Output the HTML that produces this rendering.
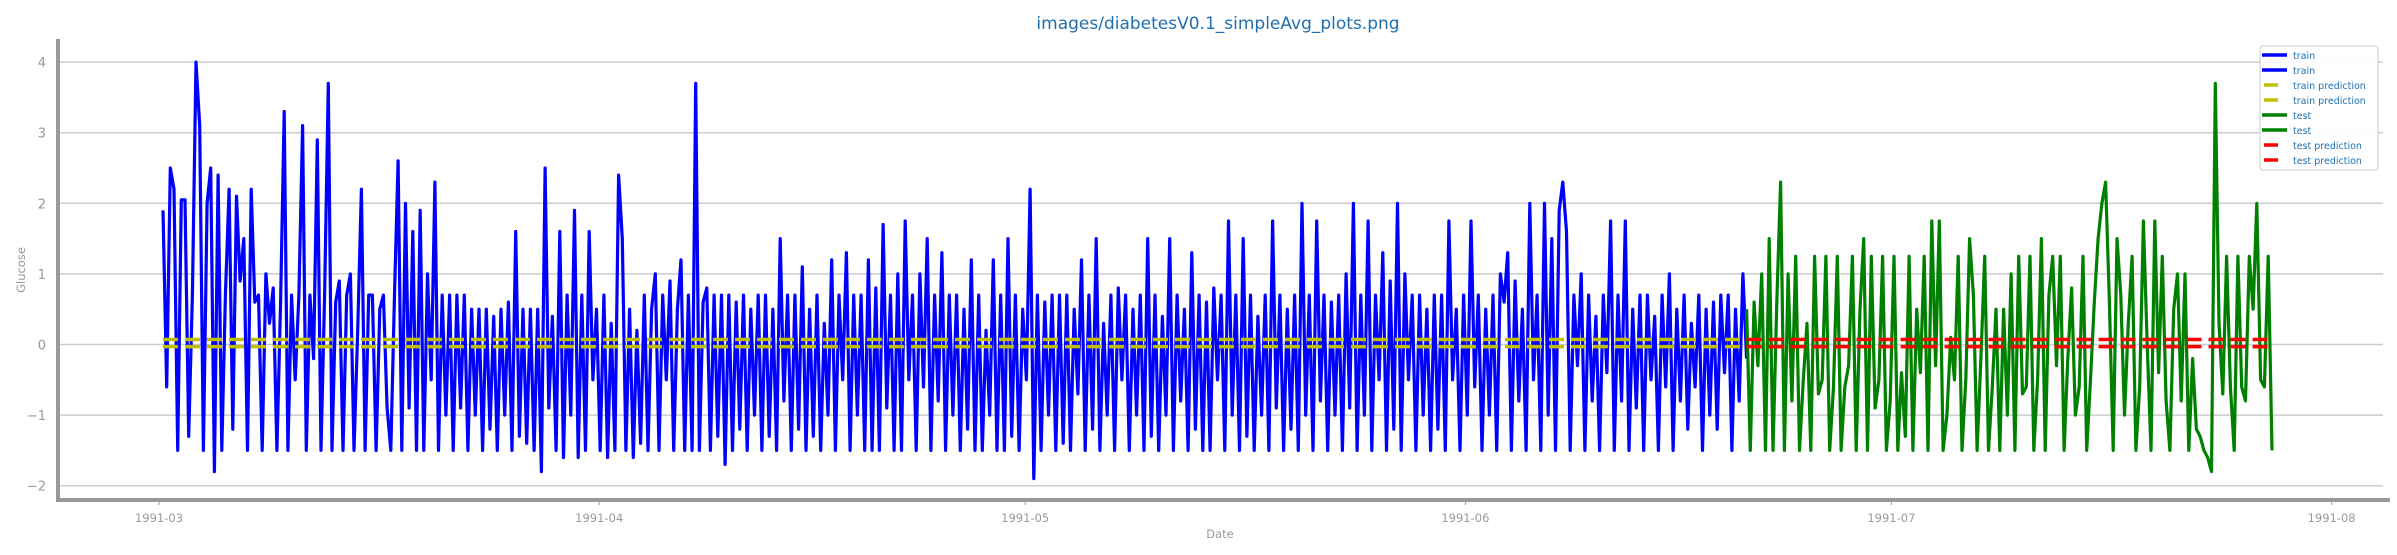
<!DOCTYPE html>
<html><head><meta charset="utf-8">
<style>
html,body{margin:0;padding:0;background:#fff;}
svg{display:block;font-family:"DejaVu Sans","Liberation Sans",sans-serif;}
</style></head>
<body>
<svg id="chart" width="2397" height="555" viewBox="0 0 2397 555" xmlns="http://www.w3.org/2000/svg">
<text x="1218" y="29" text-anchor="middle" font-size="17" fill="#1f6fb0">images/diabetesV0.1_simpleAvg_plots.png</text>
<g id="grid"></g>
<g id="series"></g>
<g id="axes"></g>
<g id="legend"></g>
</svg>
<script>
const yTicks = [-2, -1, 0, 1, 2, 3, 4];
const xTickLabels = ["1991-03", "1991-04", "1991-05", "1991-06", "1991-07", "1991-08"];
const xTickDays = [0, 31, 61, 92, 122, 153];
const trainStartDay = 0.28;
const trainEndDay = 111.8;
const testEndDay = 148.8;
const trainValues = [
1.9,-0.6,2.5,2.2,-1.5,2.05,2.05,-1.3,0.7,4.0,3.1,-1.5,2.0,2.5,-1.8,2.4,-1.5,0.7,2.2,-1.2,2.1,0.9,1.5,-1.5,2.2,0.6,0.7,-1.5,1.0,0.3,0.8,-1.5,0.6,3.3,-1.5,0.7,-0.5,0.7,3.1,-1.5,
0.7,-0.2,2.9,-1.5,0.7,3.7,-1.5,0.6,0.9,-1.5,0.7,1.0,-1.5,0.2,2.2,-1.5,0.7,0.7,-1.5,0.5,0.7,-0.9,-1.5,0.7,2.6,-1.5,2.0,-0.9,1.6,-1.5,1.9,-1.5,1.0,-0.5,2.3,-1.5,0.7,-1.0,0.7,-1.5,
0.7,-0.9,0.7,-1.5,0.5,-1.0,0.5,-1.5,0.5,-1.2,0.4,-1.5,0.5,-1.0,0.6,-1.5,1.6,-1.3,0.5,-1.4,0.5,-1.5,0.5,-1.8,2.5,-0.9,0.4,-1.5,1.6,-1.6,0.7,-1.0,1.9,-1.6,0.7,-1.5,1.6,-0.5,0.5,-1.5,0.7,-1.6,0.3,-1.5,
2.4,1.5,-1.5,0.5,-1.6,0.2,-1.4,0.7,-1.5,0.5,1.0,-1.5,0.7,-0.5,0.9,-1.5,0.5,1.2,-1.5,0.7,-1.5,3.7,-1.5,0.6,0.8,-1.5,0.7,-1.3,0.7,-1.7,0.7,-1.5,0.6,-1.2,0.7,-1.5,0.5,-1.0,0.7,-1.5,
0.7,-1.3,0.5,-1.5,1.5,-0.8,0.7,-1.5,0.7,-1.2,1.1,-1.5,0.5,-1.3,0.7,-1.5,0.3,-1.0,1.2,-1.5,0.7,-0.5,1.3,-1.5,0.7,-1.0,0.7,-1.5,1.2,-1.5,0.8,-1.5,1.7,-0.9,0.7,-1.5,1.0,-1.5,1.75,-0.5,
0.7,-1.5,1.0,-0.6,1.5,-1.5,0.7,-0.8,1.3,-1.5,0.7,-1.0,0.7,-1.5,0.5,-1.2,1.2,-1.5,0.7,-1.5,0.2,-1.0,1.2,-1.5,0.7,-1.5,1.5,-1.3,0.7,-1.5,0.5,-0.5,2.2,-1.9,0.7,-1.5,0.6,-1.0,0.7,-1.5,
0.7,-1.4,0.7,-1.5,0.5,-0.7,1.2,-1.5,0.7,-1.2,1.5,-1.5,0.3,-1.0,0.7,-1.5,0.8,-0.5,0.7,-1.5,0.5,-1.0,0.7,-1.5,1.5,-1.3,0.7,-1.5,0.4,-1.0,1.5,-1.5,0.7,-0.8,0.5,-1.5,1.3,-1.2,0.7,-1.5,
0.6,-1.5,0.8,-0.5,0.7,-1.5,1.75,-1.0,0.7,-1.5,1.5,-1.3,0.7,-1.5,0.4,-1.0,0.7,-1.5,1.75,-0.9,0.7,-1.5,0.5,-1.2,0.7,-1.5,2.0,-1.0,0.7,-1.5,1.75,-0.8,0.7,-1.5,0.6,-1.0,0.7,-1.5,1.0,-0.9,
2.0,-1.5,0.7,-1.0,1.75,-1.5,0.7,-0.5,1.3,-1.5,0.9,-1.2,2.0,-1.5,1.0,-0.5,0.7,-1.5,0.7,-1.0,0.5,-1.5,0.7,-1.2,0.7,-1.5,1.75,-0.5,0.5,-1.5,0.7,-1.0,1.75,-0.6,0.7,-1.5,0.5,-1.0,0.7,-1.5,
1.0,0.6,1.3,-1.5,0.9,-0.8,0.5,-1.5,2.0,-0.5,0.7,-1.5,2.0,-1.0,1.5,-1.5,1.9,2.3,1.6,-1.5,0.7,-0.3,1.0,-1.5,0.7,-0.8,0.4,-1.5,0.7,-0.4,1.75,-1.5,0.7,-0.8,1.75,-1.5,0.5,-0.9,0.7,-1.5,
0.7,-0.5,0.4,-1.5,0.7,-0.6,1.0,-1.5,0.5,-0.8,0.7,-1.2,0.3,-0.6,0.7,-1.5,0.5,-1.0,0.6,-1.2,0.7,-0.4,0.7,-1.5,0.5,-0.8,1.0,-0.2
];
const testValues = [
0.5,-1.5,0.6,-0.3,1.0,-1.5,1.5,-1.5,0.6,2.3,-1.5,1.0,-0.8,1.25,-1.5,-0.5,0.3,-1.5,1.25,-0.7,-0.5,1.25,-1.5,-0.6,1.25,-1.5,-0.6,-0.3,1.25,-1.5,
0.5,1.5,-1.5,1.25,-0.9,-0.5,1.25,-1.5,-0.8,1.25,-1.5,-0.4,-1.3,1.25,-1.5,0.5,-0.4,1.25,-1.5,1.75,-0.3,1.75,-1.5,-1.0,0.1,-0.5,1.25,-1.5,-0.5,1.5,
0.7,-1.5,-0.2,1.25,-1.5,-0.6,0.5,-1.5,0.5,-1.0,1.0,-1.5,1.25,-0.7,-0.6,1.25,-1.5,-0.5,1.5,-1.5,0.7,1.25,-0.3,1.25,-1.5,-0.2,0.8,-1.0,-0.6,1.25,
-1.5,-0.5,0.6,1.5,2.0,2.3,0.6,-1.5,1.5,0.7,-1.0,0.3,1.25,-1.5,-0.6,1.75,0.0,-1.5,1.75,-0.4,1.25,-0.8,-1.5,0.5,1.0,-0.8,1.0,-1.5,-0.2,-1.2,
-1.3,-1.5,-1.6,-1.8,3.7,0.3,-0.7,1.25,-0.6,-1.5,1.25,-0.6,-0.8,1.25,0.5,2.0,-0.5,-0.6,1.25,-1.5
];
const trainPredHigh = 0.07;
const trainPredLow = -0.03;
const testPredHigh = 0.07;
const testPredLow = -0.03;

const NS = "http://www.w3.org/2000/svg";
const plotL = 58, plotR = 2390, plotT = 39, plotB = 500;
function xScale(day){ return 159 + day * 14.2; }
function yScale(v){ return 344.5 - v * 70.6; }
function mk(tag, attrs, parent){
  const el = document.createElementNS(NS, tag);
  for (const k in attrs) el.setAttribute(k, attrs[k]);
  parent.appendChild(el);
  return el;
}
const grid = document.getElementById('grid');
const series = document.getElementById('series');
const axes = document.getElementById('axes');
const legend = document.getElementById('legend');

yTicks.forEach(t => {
  const y = yScale(t);
  const gl = mk('line', {x1: plotL, x2: 2383, y1: y, y2: y, stroke: '#cccccc', 'stroke-width': 1.5}, grid);
  
  
  const tl = mk('text', {x: 46, y: y + 5, 'text-anchor': 'end', 'font-size': 13, fill: '#999'}, axes);
  tl.textContent = t < 0 ? '\u2212' + Math.abs(t) : String(t);
  
  
});

xTickLabels.forEach((lab, i) => {
  const x = xScale(xTickDays[i]);
  const tk = mk('line', {x1: x, x2: x, y1: plotB, y2: plotB + 5, stroke: '#999', 'stroke-width': 1}, axes);
  
  
  const tl = mk('text', {x: x, y: 522, 'text-anchor': 'middle', 'font-size': 11.5, fill: '#999'}, axes);
  tl.textContent = lab;
  
  
});

function pathFor(values, d0, d1){
  const step = (d1 - d0) / (values.length - 1);
  return values.map((v, i) => (i ? 'L' : 'M') + xScale(d0 + i * step).toFixed(1) + ' ' + yScale(v).toFixed(1)).join(' ');
}
const trainPath = mk('path', {d: pathFor(trainValues, trainStartDay, trainEndDay), fill: 'none', stroke: '#0000ff', 'stroke-width': 3.2, 'stroke-linejoin': 'round'}, series);


const testPath = mk('path', {d: pathFor(testValues, trainEndDay, testEndDay), fill: 'none', stroke: '#008000', 'stroke-width': 3.2, 'stroke-linejoin': 'round'}, series);



function predLine(v, d0, d1, color){
  return mk('line', {x1: xScale(d0), x2: xScale(d1), y1: yScale(v), y2: yScale(v), stroke: color, 'stroke-width': 3.5, 'stroke-dasharray': '15 7'}, series);
}
let p;
p = predLine(trainPredHigh, trainStartDay, trainEndDay, '#bfbf00');


p = predLine(trainPredLow, trainStartDay, trainEndDay, '#bfbf00');


p = predLine(testPredHigh, trainEndDay, testEndDay, '#ff0000');


p = predLine(testPredLow, trainEndDay, testEndDay, '#ff0000');



// spines
const ls = mk('line', {x1: plotL, x2: plotL, y1: plotT, y2: plotB + 2, stroke: '#999', 'stroke-width': 4}, axes);


const bs = mk('line', {x1: plotL - 2, x2: plotR, y1: plotB, y2: plotB, stroke: '#999', 'stroke-width': 4}, axes);


const yt = mk('text', {x: 0, y: 0, transform: 'translate(25,270) rotate(-90)', 'text-anchor': 'middle', 'font-size': 11.5, fill: '#999'}, axes);
yt.textContent = 'Glucose';


const xt = mk('text', {x: 1220, y: 538, 'text-anchor': 'middle', 'font-size': 11.5, fill: '#999'}, axes);
xt.textContent = 'Date';



// legend
const lb = mk('rect', {x: 2260, y: 46, width: 118, height: 124, rx: 3, fill: '#fff', 'fill-opacity': 0.9, stroke: '#ccc', 'stroke-width': 1}, legend);


const legLabels = ['train','train','train prediction','train prediction','test','test','test prediction','test prediction'];
const legColors = ['#0000ff','#0000ff','#bfbf00','#bfbf00','#008000','#008000','#ff0000','#ff0000'];
const legShort = [false,false,true,true,false,false,true,true];
legLabels.forEach((lab, i) => {
  const y = 55 + i * 15;
  const x1 = legShort[i] ? 2264 : 2262;
  const x2 = legShort[i] ? 2278 : 2287;
  const sw = mk('line', {x1: x1, x2: x2, y1: y, y2: y, stroke: legColors[i], 'stroke-width': 3.5}, legend);
  
  
  const t = mk('text', {x: 2293, y: y + 4, 'font-size': 9.5, fill: '#1f6fb0'}, legend);
  t.textContent = lab;
  
  
});
</script>
</body></html>
